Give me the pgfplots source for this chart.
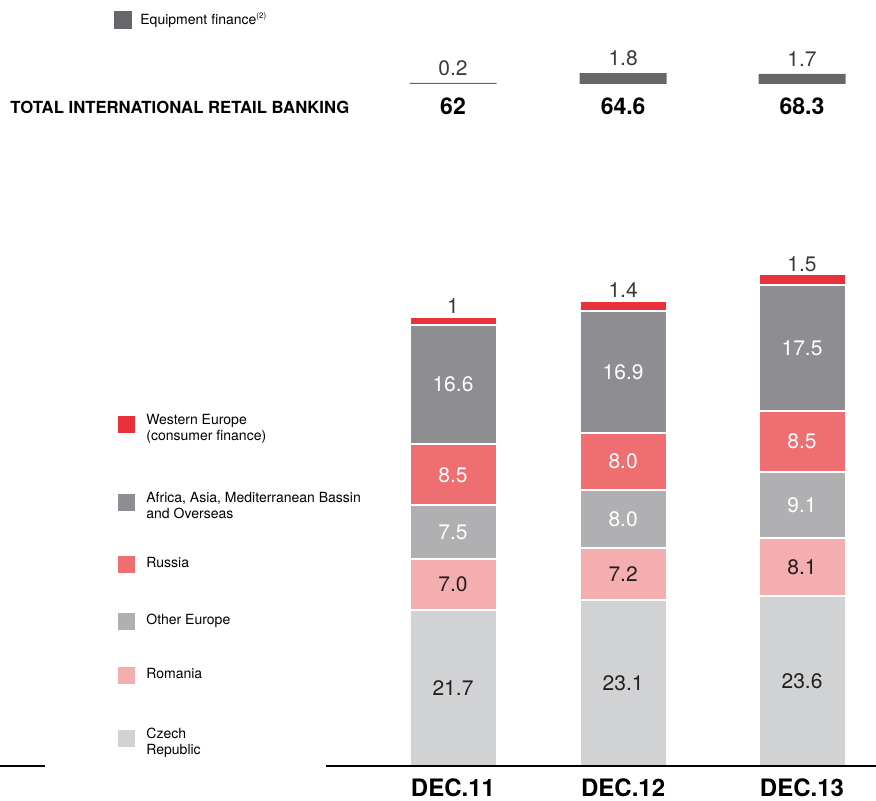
\documentclass[border=0pt]{standalone}
\usepackage{fontspec}
\setmainfont{TeX Gyre Heros}
\usepackage{pgfplots}
\pgfplotsset{compat=1.18}

\definecolor{weur}{HTML}{E8313A}
\definecolor{africa}{HTML}{8E8D92}
\definecolor{russia}{HTML}{EE6E71}
\definecolor{otheur}{HTML}{B0B0B3}
\definecolor{romania}{HTML}{F4AEB0}
\definecolor{czech}{HTML}{D1D2D4}
\definecolor{eqfin}{HTML}{67666B}
\definecolor{darktxt}{HTML}{231F20}
\definecolor{numgray}{HTML}{3A3A3A}

\newcommand{\twoline}[2]{\begin{tabular}{@{}l@{}}#1\\#2\end{tabular}}

\pgfplotsset{
  /pgf/number format/assume math mode=true,
  legend image code/.code={\fill[#1,draw=none] (0pt,-4.25pt) rectangle (8.5pt,4.25pt);},
  % stacked segments: the label sits in the middle of its own segment
  midlabel/.style={
    nodes near coords={\pgfmathprintnumber[fixed,fixed zerofill,precision=1]{\pgfplotspointmeta}},
    point meta=rawy,
    every node near coord/.append style={anchor=center, text=#1, font=\fontsize{10.5}{12}\selectfont},
  },
  % empty axis that only carries one legend row, its square centred at at=
  legaxis/.style={
    anchor=south west, scale only axis, width=1pt, height=1pt,
    xmin=0, xmax=1, ymin=0, ymax=1, hide axis,
    legend cell align=left,
    legend style={at={(0,0)}, anchor=west, draw=none, fill=none, inner sep=0pt,
      font=\fontsize{7}{8.2}\selectfont,
      /tikz/every odd column/.append style={column sep=3.5pt}},
  },
}
% #1 centre height, #2 colour, #3 text
\newcommand{\legrow}[3]{%
  \begin{axis}[legaxis, at={(59pt,#1)}]
    \addlegendimage{fill=#2}
    \addlegendentry{#3}
  \end{axis}}

\begin{document}
\begin{tikzpicture}
\path[use as bounding box] (0,0) rectangle (438pt,400pt);

\begin{axis}[
  at={(163pt,17pt)}, anchor=south west,
  scale only axis, width=275pt, height=252pt,
  xmin=-0.7278, xmax=2.4241, ymin=0, ymax=70,
  ybar stacked, bar width=43.5pt,
  axis x line=bottom, axis y line=none,
  axis line style={-, line width=0.6pt, black},
  xtick={0,0.975,2}, xticklabels={DEC.11,DEC.12,DEC.13},
  major tick length=0pt, ytick=\empty,
  xticklabel style={font=\bfseries\fontsize{12}{14}\selectfont, anchor=north, inner sep=0pt, yshift=-6pt},
  clip=false, axis on top,
  every axis plot/.append style={draw=white, line width=1pt},
]
% Czech Republic, Romania, Other Europe, Russia, Africa/Asia/..., Western Europe
\addplot[fill=czech, midlabel=darktxt] coordinates {(0,21.7) (0.975,23.1) (2,23.6)};
\addplot[fill=romania, midlabel=darktxt] coordinates {(0,7.0) (0.975,7.2) (2,8.1)};
\addplot[fill=otheur, midlabel=white] coordinates {(0,7.5) (0.975,8.0) (2,9.1)};
\addplot[fill=russia, midlabel=white] coordinates {(0,8.5) (0.975,8.0) (2,8.5)};
\addplot[fill=africa, midlabel=white] coordinates {(0,16.6) (0.975,16.9) (2,17.5)};
\addplot[fill=weur,
  nodes near coords={\pgfmathprintnumber[fixed,precision=1]{\pgfplotspointmeta}},
  point meta=rawy,
  every node near coord/.append style={anchor=south, inner sep=0pt, yshift=3.5pt, text=numgray, font=\fontsize{10.5}{12}\selectfont},
] coordinates {(0,1.0) (0.975,1.4) (2,1.5)};
\end{axis}

\legrow{188pt}{weur}{\twoline{Western Europe}{(consumer finance)}}
\legrow{149pt}{africa}{\twoline{Africa, Asia, Mediterranean Bassin}{and Overseas}}
\legrow{118pt}{russia}{Russia}
\legrow{89.5pt}{otheur}{Other Europe}
\legrow{62.5pt}{romania}{Romania}
\legrow{31pt}{czech}{\twoline{Czech}{Republic}}

% equipment finance and totals
\begin{axis}[
  at={(163pt,358pt)}, anchor=south west,
  scale only axis, width=275pt, height=6pt,
  xmin=-0.7278, xmax=2.4241, ymin=0, ymax=2,
  hide axis, clip=false,
  legend cell align=left,
  legend style={at={(-0.3855,5.33)}, anchor=west, draw=none, fill=none,
    inner sep=0pt, font=\fontsize{7}{8.2}\selectfont,
    /tikz/every odd column/.append style={column sep=2pt}},
  legend image code/.code={\fill[#1,draw=none] (0pt,-4.5pt) rectangle (9pt,4.5pt);},
]
\addplot[ybar, bar width=43.5pt, bar shift=0pt, fill=eqfin, draw=none,
  nodes near coords={\pgfmathprintnumber[fixed,fixed zerofill,precision=1]{\pgfplotspointmeta}},
  point meta=y,
  every node near coord/.append style={anchor=south, inner sep=0pt, yshift=3.5pt, text=numgray, font=\fontsize{10.5}{12}\selectfont},
] coordinates {(0,0.2) (0.975,1.8) (2,1.7)};
\addlegendentry{Equipment finance\textsuperscript{\fontsize{4}{4}\selectfont(2)}}
\addplot[draw=none, mark=none, forget plot, point meta=explicit symbolic, nodes near coords,
  every node near coord/.append style={anchor=center, text=black, font=\bfseries\fontsize{11.5}{13}\selectfont},
] coordinates {(0,-3.67) [62] (0.975,-3.67) [64.6] (2,-3.67) [68.3]};
\end{axis}

\node[anchor=west, inner sep=0pt, font=\bfseries\fontsize{8.35}{9}\selectfont] at (5pt,346.5pt) {TOTAL INTERNATIONAL RETAIL BANKING};
\draw[line width=0.6pt] (0pt,17pt) -- (22.5pt,17pt);
\end{tikzpicture}
\end{document}
